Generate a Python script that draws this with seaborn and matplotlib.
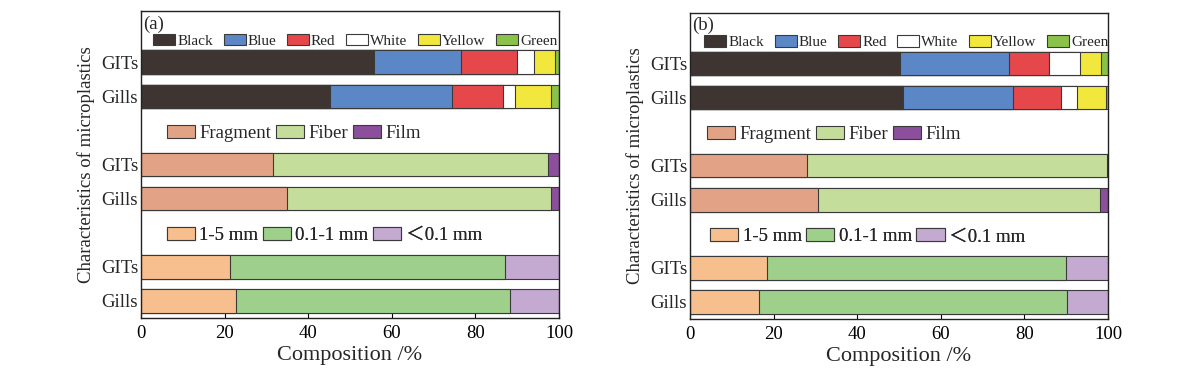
import matplotlib.pyplot as plt
import numpy as np
import pandas as pd
import seaborn as sns
from matplotlib.patches import Patch

sns.set_theme(style="white")
plt.rcParams["font.family"] = ["Liberation Serif", "Noto Sans CJK SC", "DejaVu Serif"]

tissues = ["GITs", "Gills"]

color_names = ["Black", "Blue", "Red", "White", "Yellow", "Green"]
color_colors = ["#3e3532", "#5b87c6", "#e5474a", "#ffffff", "#f2e73c", "#8bc24a"]
shape_names = ["Fragment", "Fiber", "Film"]
shape_colors = ["#e2a285", "#c4dd9b", "#8b4f9b"]
size_names = ["1-5 mm", "0.1-1 mm", "\uff1c0.1 mm"]
size_colors = ["#f7bf8d", "#9ecf8b", "#c4a9d1"]

# panel (a): rows are GITs, Gills
color_a = [[55.8, 20.7, 13.4, 4.0, 5.2, 0.9],
           [45.1, 29.2, 12.2, 3.0, 8.5, 2.0]]
shape_a = [[31.5, 65.9, 2.6],
           [34.9, 63.3, 1.8]]
size_a = [[21.4, 65.8, 12.8],
          [22.7, 65.6, 11.7]]

# panel (b)
color_b = [[50.3, 25.9, 9.8, 7.2, 5.1, 1.7],
           [50.9, 26.3, 11.5, 3.9, 7.0, 0.4]]
shape_b = [[28.1, 71.7, 0.2],
           [30.7, 67.3, 2.0]]
size_b = [[18.5, 71.4, 10.1],
          [16.4, 73.9, 9.7]]

group_rows = [[0, 1], [3, 4], [6, 7]]
edge = "#3a3a3a"


def stacked_group(ax, values, rows, colors):
    """Draw one stacked group by overlaying cumulative bars."""
    cum = np.cumsum(np.array(values), axis=1)
    for k in range(cum.shape[1] - 1, -1, -1):
        df = pd.DataFrame({"pos": rows, "val": cum[:, k]})
        sns.barplot(data=df, x="val", y="pos", orient="y", native_scale=True,
                    width=0.69, color=colors[k], saturation=1, edgecolor=edge,
                    linewidth=0.8, errorbar=None, ax=ax)


def add_legend(ax, names, colors, x, y, size, hlen, hh, tpad, cspace):
    handles = [Patch(facecolor=c, edgecolor=edge, linewidth=0.8) for c in colors]
    leg = ax.legend(handles, names, loc="center left", bbox_to_anchor=(x, y),
                    ncol=len(names), frameon=False, fontsize=size,
                    handlelength=hlen, handleheight=hh, handletextpad=tpad,
                    columnspacing=cspace, borderpad=0, borderaxespad=0)
    ax.add_artist(leg)


def draw_panel(ax, letter, color_vals, shape_vals, size_vals, lx):
    stacked_group(ax, color_vals, group_rows[0], color_colors)
    stacked_group(ax, shape_vals, group_rows[1], shape_colors)
    stacked_group(ax, size_vals, group_rows[2], size_colors)

    ax.set_xlim(0, 100)
    ax.set_ylim(7.5, -1.5)
    ax.set_xticks([0, 20, 40, 60, 80, 100])
    ax.set_yticks([r for g in group_rows for r in g])
    ax.set_yticklabels(tissues * 3)
    ax.tick_params(axis="y", length=0, pad=2, labelsize=13.5)
    ax.tick_params(axis="x", direction="in", length=4, width=0.8, pad=5,
                   labelsize=13.5, bottom=True, colors="black")
    ax.set_xlabel("Composition /%", fontsize=16, labelpad=3)
    ax.set_ylabel("Characteristics of microplastics", fontsize=13.5, labelpad=4)
    for s in ax.spines.values():
        s.set_color("#222222")
        s.set_linewidth(1.0)

    ax.text(0.006, 0.985, letter, transform=ax.transAxes, ha="left", va="top",
            fontsize=13.5)
    add_legend(ax, color_names, color_colors, lx[0], 0.903, 11, 1.45, 0.8, 0.12, 0.7)
    add_legend(ax, shape_names, shape_colors, lx[1], 0.602, 13.5, 1.5, 0.68, 0.23, 0.25)
    add_legend(ax, size_names, size_colors, lx[2], 0.268, 13.5, 1.5, 0.68, 0.23, 0.25)


fig = plt.figure(figsize=(12, 3.82), dpi=100)
ax_a = fig.add_axes([141 / 1200, 1 - 318 / 382, 418 / 1200, 307 / 382])
ax_b = fig.add_axes([690 / 1200, 1 - 319 / 382, 418 / 1200, 306.5 / 382])

draw_panel(ax_a, "(a)", color_a, shape_a, size_a, (0.029, 0.063, 0.062))
draw_panel(ax_b, "(b)", color_b, shape_b, size_b, (0.034, 0.041, 0.048))

fig.savefig("out.png", dpi=100)
plt.close(fig)
